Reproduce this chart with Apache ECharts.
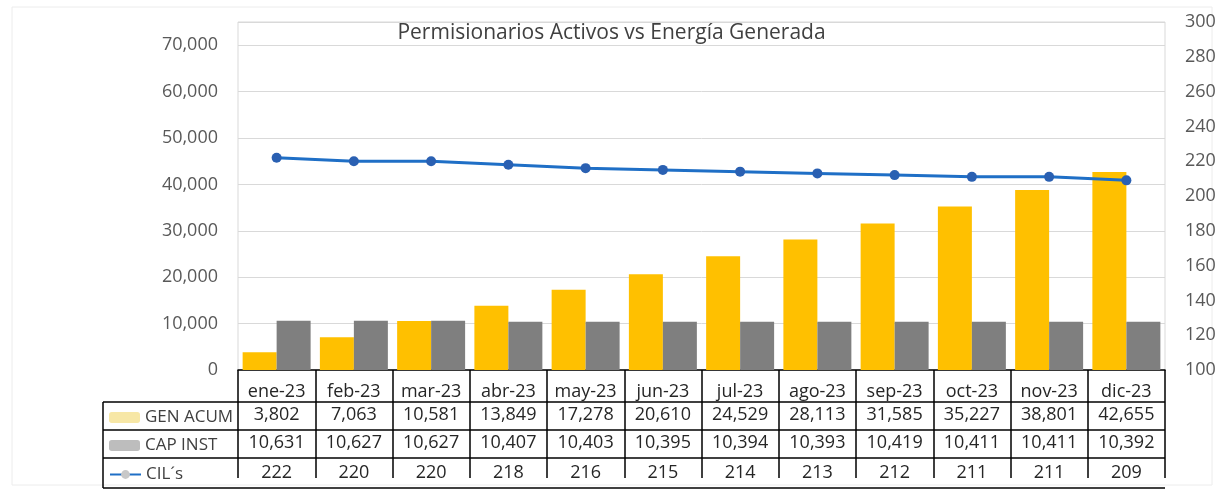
<!DOCTYPE html>
<html>
<head>
<meta charset="utf-8">
<script src="https://cdn.jsdelivr.net/npm/echarts@6/dist/echarts.min.js"></script>
<style>
  html, body { margin: 0; padding: 0; background: #fff; }
  #chart { width: 1223px; height: 491px; }
</style>
</head>
<body>
<div id="chart"></div>
<script>
const months = ['ene-23', 'feb-23', 'mar-23', 'abr-23', 'may-23', 'jun-23', 'jul-23', 'ago-23', 'sep-23', 'oct-23', 'nov-23', 'dic-23']
const genAcum = [3802, 7063, 10581, 13849, 17278, 20610, 24529, 28113, 31585, 35227, 38801, 42655]
const capInst = [10631, 10627, 10627, 10407, 10403, 10395, 10394, 10393, 10419, 10411, 10411, 10392]
const cils = [222, 220, 220, 218, 216, 215, 214, 213, 212, 211, 211, 209]

const font = 'Open Sans'
const fmt = v => v.toLocaleString('en-US')

// table geometry (pixels)
const tblLeft = 103
const plotLeft = 238
const plotRight = 1165
const rowLines = [402, 430, 458, 488]

const chart = echarts.init(document.getElementById('chart'))

// one extra category axis per table row, labels below its top border
const rowAxis = (values, offset, margin) => ({
  type: 'category',
  data: values,
  position: 'bottom',
  offset: offset,
  axisLine: { show: false },
  axisTick: { show: false },
  axisLabel: { interval: 0, margin: margin, color: '#262626', fontSize: 18, fontFamily: font }
})

const legendAt = (name, top, color) => ({
  left: tblLeft + 1,
  top: top,
  itemWidth: 31,
  itemHeight: 11,
  itemGap: 6,
  selectedMode: false,
  data: [{ name: name, itemStyle: { color: color } }],
  textStyle: { color: '#404040', fontSize: 17, fontFamily: font }
})

const hLines = rowLines.map(y => ({
  type: 'line',
  shape: { x1: tblLeft, y1: y, x2: plotRight, y2: y },
  style: { stroke: '#000', lineWidth: 1.5 }
}))

chart.setOption({
  animation: false,
  title: {
    text: 'Permisionarios Activos vs Energía Generada',
    left: 'center',
    top: 18,
    textStyle: { fontSize: 21, fontWeight: 'normal', color: '#404040', fontFamily: font }
  },
  grid: {
    left: plotLeft, right: 1223 - plotRight, top: 22, bottom: 121,
    show: true, borderColor: '#d9d9d9', borderWidth: 1
  },
  legend: [
    legendAt('GEN ACUM', 404, '#f7e7a6'),
    legendAt('CAP INST', 432, '#bdbdbd'),
    legendAt('CIL´s', 461, '#c8c8c8')
  ],
  xAxis: [
    {
      type: 'category',
      data: months,
      position: 'bottom',
      offset: 10,
      axisLine: { lineStyle: { color: '#000', width: 1.5 } },
      axisTick: { show: true, interval: 0, length: 108, lineStyle: { color: '#000', width: 1.5 } },
      axisLabel: { interval: 0, margin: 3, color: '#262626', fontSize: 18, fontFamily: font }
    },
    rowAxis(genAcum.map(fmt), 32, 4),
    rowAxis(capInst.map(fmt), 60, 4),
    rowAxis(cils.map(String), 88, 6)
  ],
  yAxis: [
    {
      type: 'value',
      min: 0,
      max: 75000,
      interval: 10000,
      axisLine: { show: false },
      axisTick: { show: false },
      axisLabel: {
        margin: 20,
        color: '#595959',
        fontSize: 18,
        fontFamily: font,
        formatter: v => (v > 70000 ? '' : fmt(v))
      },
      splitLine: { lineStyle: { color: '#d9d9d9' } }
    },
    {
      type: 'value',
      min: 100,
      max: 300,
      interval: 20,
      position: 'right',
      axisLine: { show: false },
      axisTick: { show: false },
      axisLabel: { margin: 20, color: '#595959', fontSize: 18, fontFamily: font },
      splitLine: { show: false }
    }
  ],
  graphic: [
    ...hLines,
    {
      type: 'line',
      shape: { x1: tblLeft, y1: rowLines[0], x2: tblLeft, y2: rowLines[3] },
      style: { stroke: '#000', lineWidth: 1.5 }
    },
    {
      type: 'rect',
      shape: { x: 12, y: 7, width: 1200, height: 478 },
      style: { fill: 'none', stroke: '#ececec', lineWidth: 1 },
      z: -1
    }
  ],
  series: [
    {
      name: 'GEN ACUM',
      type: 'bar',
      data: genAcum,
      barGap: '0%',
      barCategoryGap: '12%',
      itemStyle: { color: '#FFC000' }
    },
    {
      name: 'CAP INST',
      type: 'bar',
      data: capInst,
      itemStyle: { color: '#7F7F7F' }
    },
    {
      name: 'CIL´s',
      type: 'line',
      yAxisIndex: 1,
      data: cils,
      symbol: 'circle',
      symbolSize: 10,
      lineStyle: { color: '#1F6FC6', width: 3 },
      itemStyle: { color: '#2A60B2' },
      z: 5
    }
  ]
})
</script>
</body>
</html>
